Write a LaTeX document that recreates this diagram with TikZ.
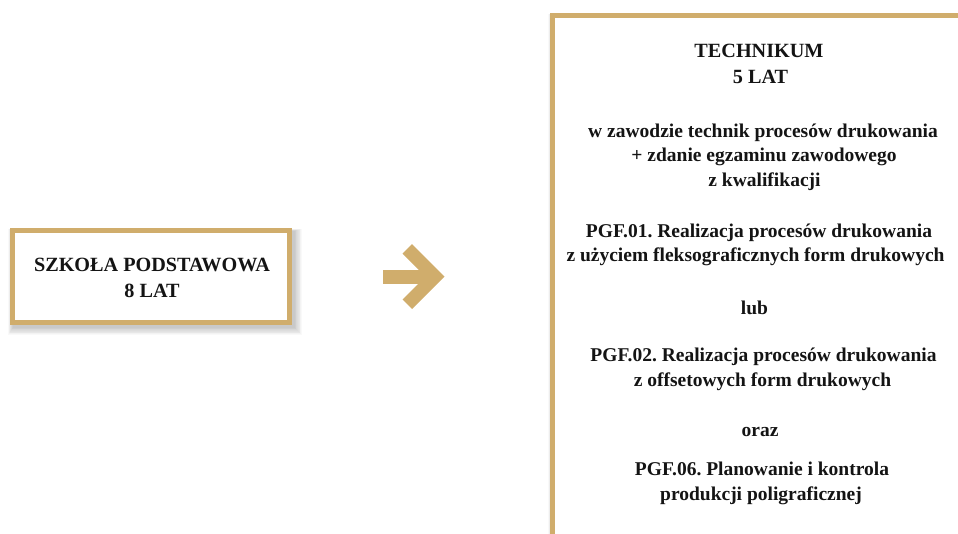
\documentclass[tikz,border=0pt]{standalone}
\usepackage{fontspec}
\setmainfont{Liberation Serif}
\definecolor{gold}{RGB}{208,173,108}
\frenchspacing
\begin{document}
\begin{tikzpicture}[x=1pt,y=-1pt,
  txt/.style={font=\fontsize{19.5}{24}\selectfont\bfseries, inner sep=0pt, anchor=base, text=black!92},
  captxt/.style={txt, font=\fontsize{20.2}{24}\selectfont\bfseries},
  frame/.style={draw=gold, line width=5pt, fill=white},
  arrowfill/.style={fill=gold, draw=none}]
\useasboundingbox (0,0) rectangle (958,533);
\clip (0,0) rectangle (958,533);
% soft shadows
\foreach \i in {1,...,10}{
  \fill[black, opacity=0.022] (10+3-\i*0.5,228+3-\i*0.2) rectangle (292+2+\i*0.8,325+2+\i*0.8);
  \fill[black, opacity=0.022] (550+3-\i*0.5,13+3-\i*0.2) rectangle (1100,700);
}
% left box
\draw[frame] (12.5,230.5) rectangle (289.5,322.5);
\node[captxt] (s1) at (152,271.7) {SZKOŁA PODSTAWOWA};
\node[captxt] (s2) at (152,297.3) {8 LAT};
% arrow
\fill[arrowfill] (383,270) rectangle (432,283.5);
\fill[arrowfill] (412,244) -- (444.5,276.7) -- (412,309) -- (402.5,299.5) -- (425.5,276.7) -- (402.5,253.5) -- cycle;
% right box
\draw[frame] (552.5,15.5) rectangle (1100,700);
\node[captxt] (t1) at (759,57.3) {TECHNIKUM};
\node[captxt] (t2) at (760.5,83) {5 LAT};
\node[txt] (t3) at (763,137.3) {w zawodzie technik procesów drukowania};
\node[txt] (t4) at (764,161.7) {+ zdanie egzaminu zawodowego};
\node[txt] (t5) at (764.5,186) {z kwalifikacji};
\node[txt] (t6) at (759,237.3) {PGF.01. Realizacja procesów drukowania};
\node[txt] (t7) at (755.5,261.7) {z użyciem fleksograficznych form drukowych};
\node[txt] (t8) at (754.5,314.3) {lub};
\node[txt] (t9) at (763.5,361.7) {PGF.02. Realizacja procesów drukowania};
\node[txt] (t10) at (762.5,386.7) {z offsetowych form drukowych};
\node[txt] (t11) at (760,436.7) {oraz};
\node[txt] (t12) at (762,475) {PGF.06. Planowanie i kontrola};
\node[txt] (t13) at (761,500) {produkcji poligraficznej};
\end{tikzpicture}
\end{document}
